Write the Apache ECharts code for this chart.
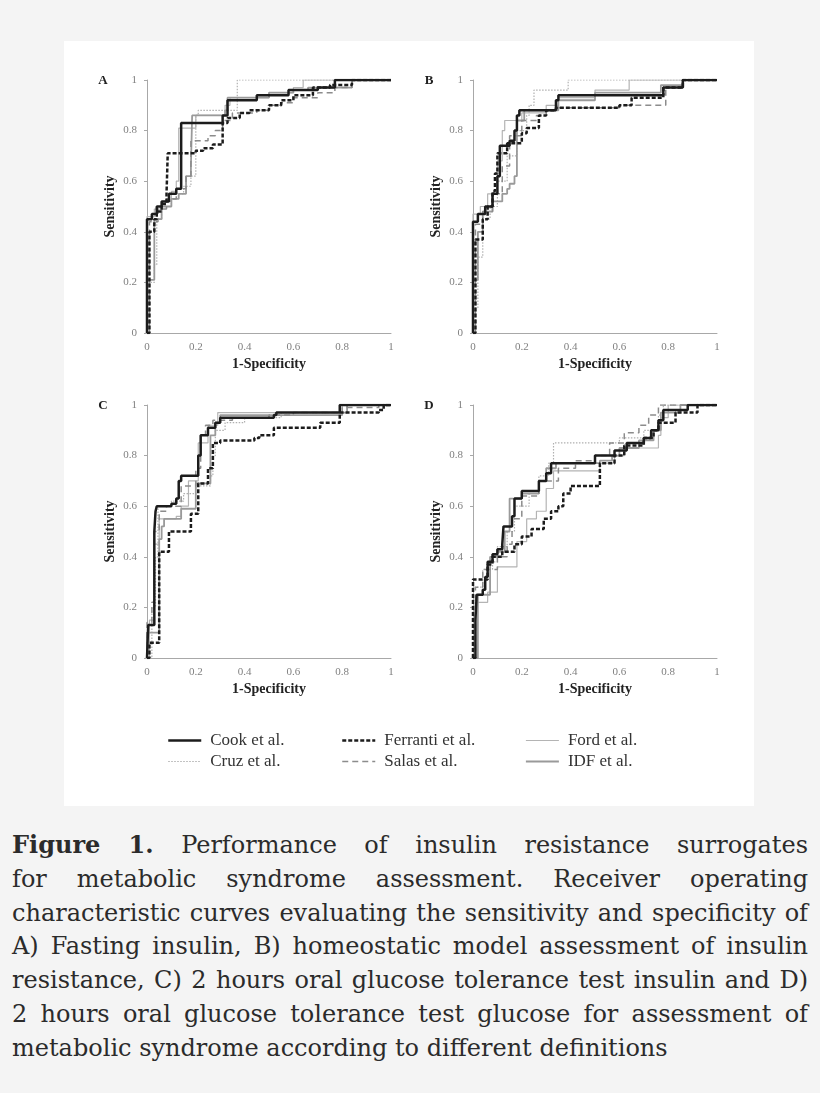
<!DOCTYPE html>
<html>
<head>
<meta charset="utf-8">
<title>ROC curves</title>
<script src="https://cdn.jsdelivr.net/npm/echarts@6/dist/echarts.min.js"></script>
<style>
  html, body { margin: 0; padding: 0; }
  body { width: 820px; height: 1093px; background: #f4f4f4; position: relative; overflow: hidden; }
  #chart { position: absolute; left: 64px; top: 41px; width: 690px; height: 765px; background: #fff; }
  .caption {
    position: absolute; left: 12px; top: 828px; width: 796px;
    font-family: "DejaVu Serif", serif; font-size: 24px; line-height: 33.8px; color: #2b2b2b;
  }
  .caption div { text-align: justify; text-align-last: justify; white-space: nowrap; }
  .caption div.last { text-align: left; text-align-last: left; }
</style>
</head>
<body>
<div id="chart"></div>
<div class="caption">
  <div><b>Figure 1.</b> Performance of insulin resistance surrogates</div>
  <div>for metabolic syndrome assessment. Receiver operating</div>
  <div>characteristic curves evaluating the sensitivity and specificity of</div>
  <div>A) Fasting insulin, B) homeostatic model assessment of insulin</div>
  <div>resistance, C) 2 hours oral glucose tolerance test insulin and D)</div>
  <div>2 hours oral glucose tolerance test glucose for assessment of</div>
  <div class="last">metabolic syndrome according to different definitions</div>
</div>
<script>
// panel letters and definitions
const panels = ['A', 'B', 'C', 'D'];
const definitions = ['Cook et al.', 'Ferranti et al.', 'Ford et al.', 'Cruz et al.', 'Salas et al.', 'IDF et al.'];
const axisTicks = [0, 0.2, 0.4, 0.6, 0.8, 1];

// [1-specificity, sensitivity] points
// A) fasting insulin
const cookA = [[0,0],[0,0.45],[0.02,0.47],[0.04,0.5],[0.06,0.52],[0.09,0.55],[0.12,0.57],[0.14,0.83],[0.31,0.86],[0.33,0.92],[0.45,0.94],[0.58,0.96],[0.7,0.97],[0.77,1],[1,1]];
const ferrantiA = [[0,0],[0.01,0.4],[0.03,0.45],[0.04,0.48],[0.06,0.51],[0.08,0.55],[0.085,0.71],[0.2,0.72],[0.23,0.73],[0.27,0.745],[0.31,0.83],[0.33,0.85],[0.38,0.87],[0.42,0.88],[0.5,0.9],[0.55,0.92],[0.6,0.94],[0.68,0.97],[0.75,0.98],[0.84,1],[1,1]];
const fordA = [[0,0],[0,0.46],[0.03,0.49],[0.06,0.52],[0.1,0.56],[0.12,0.6],[0.13,0.81],[0.2,0.86],[0.32,0.9],[0.34,0.93],[0.5,0.95],[0.6,0.97],[0.64,1],[1,1]];
const cruzA = [[0,0],[0.01,0.2],[0.03,0.27],[0.04,0.45],[0.06,0.5],[0.1,0.55],[0.15,0.58],[0.18,0.62],[0.2,0.86],[0.21,0.88],[0.37,1],[1,1]];
const salasA = [[0,0],[0.01,0.44],[0.045,0.49],[0.08,0.53],[0.12,0.57],[0.16,0.62],[0.18,0.76],[0.25,0.78],[0.28,0.8],[0.31,0.84],[0.35,0.87],[0.45,0.88],[0.5,0.9],[0.55,0.91],[0.6,0.93],[0.7,0.95],[0.77,0.97],[0.84,1],[1,1]];
const idfA = [[0,0],[0,0.21],[0.03,0.45],[0.06,0.5],[0.1,0.53],[0.13,0.55],[0.16,0.62],[0.18,0.66],[0.185,0.86],[0.32,0.88],[0.33,0.93],[0.5,0.95],[0.6,0.96],[0.66,0.97],[0.84,1],[1,1]];

// B) HOMA-IR
const cookB = [[0,0],[0,0.44],[0.02,0.47],[0.05,0.5],[0.08,0.55],[0.1,0.62],[0.11,0.74],[0.15,0.76],[0.17,0.8],[0.18,0.86],[0.19,0.88],[0.34,0.92],[0.35,0.94],[0.78,0.97],[0.86,1],[1,1]];
const ferrantiB = [[0,0],[0.01,0.37],[0.04,0.45],[0.06,0.5],[0.08,0.56],[0.09,0.63],[0.1,0.71],[0.14,0.75],[0.2,0.79],[0.22,0.81],[0.27,0.86],[0.3,0.88],[0.34,0.89],[0.6,0.9],[0.65,0.93],[0.78,0.97],[0.86,1],[1,1]];
const fordB = [[0,0],[0,0.47],[0.03,0.5],[0.06,0.55],[0.1,0.68],[0.12,0.8],[0.13,0.84],[0.2,0.87],[0.3,0.9],[0.35,0.93],[0.5,0.96],[0.64,1],[1,1]];
const cruzB = [[0,0],[0.01,0.1],[0.02,0.3],[0.04,0.45],[0.07,0.5],[0.1,0.6],[0.14,0.7],[0.18,0.8],[0.22,0.86],[0.23,0.9],[0.25,0.96],[0.39,1],[1,1]];
const salasB = [[0,0],[0.01,0.43],[0.04,0.48],[0.08,0.55],[0.12,0.66],[0.15,0.78],[0.2,0.84],[0.26,0.86],[0.3,0.88],[0.35,0.89],[0.6,0.9],[0.79,0.97],[0.86,1],[1,1]];
const idfB = [[0,0],[0,0.21],[0.02,0.4],[0.04,0.48],[0.08,0.52],[0.12,0.55],[0.14,0.57],[0.15,0.59],[0.17,0.62],[0.18,0.84],[0.21,0.88],[0.35,0.92],[0.5,0.95],[0.77,0.98],[0.86,1],[1,1]];

// C) 2 h OGTT insulin
const cookC = [[0,0],[0.005,0.13],[0.03,0.5],[0.035,0.58],[0.04,0.6],[0.1,0.61],[0.12,0.63],[0.13,0.7],[0.14,0.72],[0.21,0.8],[0.22,0.88],[0.25,0.91],[0.28,0.93],[0.3,0.95],[0.52,0.96],[0.53,0.97],[0.79,1],[1,1]];
const ferrantiC = [[0,0],[0.01,0.06],[0.05,0.42],[0.09,0.5],[0.18,0.57],[0.21,0.69],[0.25,0.75],[0.27,0.85],[0.3,0.86],[0.44,0.87],[0.46,0.88],[0.52,0.91],[0.71,0.93],[0.79,0.97],[0.95,0.98],[0.97,1],[1,1]];
const fordC = [[0,0],[0.01,0.15],[0.03,0.45],[0.05,0.55],[0.12,0.56],[0.14,0.6],[0.17,0.7],[0.21,0.85],[0.25,0.92],[0.29,0.97],[0.8,1],[1,1]];
const cruzC = [[0,0],[0.02,0.2],[0.035,0.4],[0.045,0.6],[0.1,0.62],[0.15,0.65],[0.2,0.68],[0.26,0.72],[0.27,0.8],[0.28,0.9],[0.32,0.93],[0.4,0.95],[0.55,0.97],[0.8,1],[1,1]];
const salasC = [[0,0],[0,0.14],[0.02,0.22],[0.03,0.5],[0.05,0.58],[0.08,0.6],[0.14,0.68],[0.2,0.75],[0.22,0.88],[0.24,0.92],[0.27,0.94],[0.35,0.95],[0.5,0.96],[0.6,0.97],[0.8,0.99],[0.95,1],[1,1]];
const idfC = [[0,0],[0,0.1],[0.05,0.47],[0.06,0.52],[0.07,0.55],[0.14,0.59],[0.2,0.69],[0.26,0.88],[0.28,0.93],[0.3,0.96],[0.8,0.97],[0.82,1],[1,1]];

// D) 2 h OGTT glucose
const cookD = [[0,0],[0.01,0.15],[0.015,0.25],[0.04,0.27],[0.05,0.32],[0.06,0.38],[0.08,0.41],[0.1,0.43],[0.12,0.45],[0.125,0.52],[0.16,0.56],[0.17,0.63],[0.2,0.66],[0.27,0.7],[0.3,0.73],[0.32,0.77],[0.5,0.8],[0.58,0.82],[0.63,0.85],[0.7,0.87],[0.73,0.9],[0.76,0.94],[0.78,0.98],[0.88,1],[1,1]];
const ferrantiD = [[0,0],[0,0.31],[0.06,0.37],[0.08,0.4],[0.12,0.42],[0.17,0.45],[0.2,0.48],[0.24,0.51],[0.29,0.55],[0.32,0.58],[0.35,0.6],[0.37,0.65],[0.4,0.68],[0.52,0.77],[0.58,0.8],[0.62,0.84],[0.7,0.87],[0.74,0.9],[0.76,0.93],[0.83,0.97],[0.92,1],[1,1]];
const fordD = [[0,0],[0.01,0.22],[0.06,0.26],[0.1,0.36],[0.18,0.46],[0.22,0.55],[0.26,0.58],[0.3,0.67],[0.33,0.74],[0.52,0.77],[0.58,0.8],[0.62,0.83],[0.76,0.88],[0.77,0.95],[0.8,1],[1,1]];
const cruzD = [[0,0],[0,0.28],[0.04,0.35],[0.08,0.38],[0.1,0.44],[0.14,0.5],[0.17,0.6],[0.23,0.66],[0.27,0.72],[0.31,0.77],[0.33,0.85],[0.53,0.85],[0.6,0.87],[0.7,0.9],[0.76,0.96],[0.78,1],[1,1]];
const salasD = [[0,0],[0.01,0.28],[0.04,0.35],[0.1,0.4],[0.14,0.45],[0.16,0.55],[0.2,0.64],[0.27,0.7],[0.35,0.75],[0.42,0.78],[0.5,0.8],[0.56,0.85],[0.62,0.89],[0.68,0.92],[0.72,0.96],[0.76,1],[1,1]];
const idfD = [[0,0],[0.02,0.25],[0.07,0.4],[0.1,0.42],[0.13,0.5],[0.15,0.63],[0.2,0.65],[0.27,0.7],[0.3,0.75],[0.34,0.77],[0.52,0.78],[0.57,0.8],[0.6,0.83],[0.68,0.86],[0.74,0.9],[0.77,0.97],[0.85,1],[1,1]];

const curves = [
  [cookA, ferrantiA, fordA, cruzA, salasA, idfA],
  [cookB, ferrantiB, fordB, cruzB, salasB, idfB],
  [cookC, ferrantiC, fordC, cruzC, salasC, idfC],
  [cookD, ferrantiD, fordD, cruzD, salasD, idfD]
];

const lineStyles = {
  'Cook et al.': { color: '#1c1c1c', width: 2.5, type: 'solid' },
  'Ferranti et al.': { color: '#1c1c1c', width: 2.5, type: [4, 2] },
  'Ford et al.': { color: '#b4b4b4', width: 1.2, type: 'solid' },
  'Cruz et al.': { color: '#b0b0b0', width: 1.2, type: [1.5, 1.5] },
  'Salas et al.': { color: '#8c8c8c', width: 1.5, type: [6, 4] },
  'IDF et al.': { color: '#9a9a9a', width: 1.8, type: 'solid' }
};
// light curves drawn first, black ones on top
const drawOrder = [3, 2, 5, 4, 1, 0];

const serif = '"Liberation Serif", "Times New Roman", serif';
const grids = [
  { left: 83, top: 39, width: 244, height: 253 },
  { left: 409, top: 39, width: 244, height: 253 },
  { left: 83, top: 364, width: 244, height: 253 },
  { left: 409, top: 364, width: 244, height: 253 }
];

const chart = echarts.init(document.getElementById('chart'));

const xAxes = grids.map((g, i) => ({
  type: 'value', gridIndex: i, min: 0, max: 1, interval: 0.2,
  name: '1-Specificity', nameLocation: 'middle', nameGap: 24,
  nameTextStyle: { fontFamily: serif, fontWeight: 'bold', fontSize: 14, color: '#222' },
  axisLine: { show: true, lineStyle: { color: '#a8a8a8', width: 1 } },
  axisTick: { show: false },
  axisLabel: { fontFamily: serif, fontSize: 11, color: '#808080', margin: 9,
    formatter: v => axisTicks.indexOf(v) >= 0 ? String(v) : '' },
  splitLine: { show: false }
}));

const yAxes = grids.map((g, i) => ({
  type: 'value', gridIndex: i, min: 0, max: 1, interval: 0.2,
  name: 'Sensitivity', nameLocation: 'middle', nameGap: 30,
  nameTextStyle: { fontFamily: serif, fontWeight: 'bold', fontSize: 14, color: '#222' },
  axisLine: { show: true, lineStyle: { color: '#a8a8a8', width: 1 } },
  axisTick: { show: true, length: 3, lineStyle: { color: '#a8a8a8' } },
  axisLabel: { fontFamily: serif, fontSize: 11, color: '#808080', margin: 10,
    formatter: v => axisTicks.indexOf(v) >= 0 ? String(v) : '' },
  splitLine: { show: false }
}));

const series = [];
curves.forEach((set, gi) => {
  drawOrder.forEach(k => {
    const name = definitions[k];
    series.push({
      name: name,
      type: 'line',
      xAxisIndex: gi,
      yAxisIndex: gi,
      data: set[k],
      step: 'end',
      symbol: 'none',
      lineStyle: lineStyles[name],
      itemStyle: { color: lineStyles[name].color },
      z: 2 + (k < 2 ? 1 : 0)
    });
  });
});

const legendBase = {
  orient: 'vertical', top: 686, itemWidth: 33, itemHeight: 14, itemGap: 4,
  // line only in the key, no marker
  itemStyle: { color: 'rgba(0,0,0,0)', borderWidth: 0, opacity: 0 },
  lineStyle: { width: 'inherit', type: 'inherit', color: 'inherit' },
  textStyle: { fontFamily: serif, fontSize: 17, color: '#333', padding: [0, 0, 0, 4] },
  selectedMode: false
};

chart.setOption({
  animation: false,
  backgroundColor: '#fff',
  grid: grids,
  xAxis: xAxes,
  yAxis: yAxes,
  legend: [
    Object.assign({}, legendBase, { left: 98, data: ['Cook et al.', 'Cruz et al.'] }),
    Object.assign({}, legendBase, { left: 272, data: ['Ferranti et al.', 'Salas et al.'] }),
    Object.assign({}, legendBase, { left: 456, data: ['Ford et al.', 'IDF et al.'] })
  ],
  graphic: panels.map((p, i) => ({
    type: 'text',
    x: grids[i].left - 44,
    y: grids[i].top + 1,
    style: { text: p, font: 'bold 13px ' + serif, fill: '#222', textAlign: 'center', textVerticalAlign: 'middle' }
  })),
  series: series
});
</script>
</body>
</html>
